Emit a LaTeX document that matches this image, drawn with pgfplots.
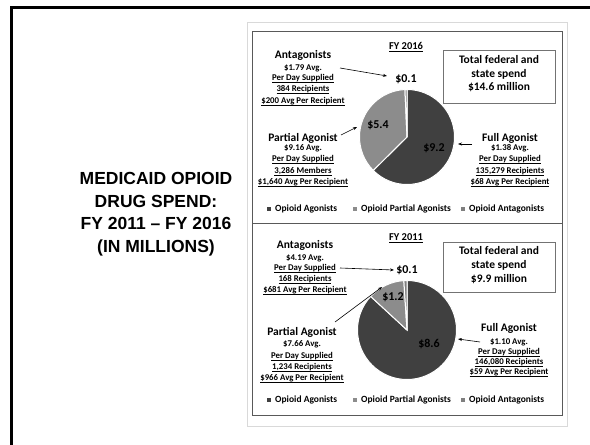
\documentclass[border=0pt]{standalone}
\usepackage{fontspec}
\setmainfont{Carlito}
\newfontfamily\arial{Liberation Sans}
\usepackage{pgfplots}
\usepackage{pgfplotstable}
\pgfplotsset{compat=1.18}
\usetikzlibrary{arrows.meta}

% slice colours: 0 agonists, 1 partial agonists, 2 antagonists
\definecolor{pie0}{HTML}{404040}
\definecolor{pie1}{HTML}{8C8C8C}
\definecolor{pie2}{HTML}{7F7F7F}
\definecolor{panel}{HTML}{595959}
\definecolor{frame}{HTML}{D9D9D9}

% spend in millions, FY 2016 and FY 2011
\pgfplotstableread{
slice value
0 9.2
1 5.4
2 0.1
}\fysixteen
\pgfplotstableread{
slice value
0 8.6
1 1.2
2 0.1
}\fyeleven
\pgfplotstablecreatecol[create col/expr accum={\pgfmathaccuma + \thisrow{value}}{0}]{cum}\fysixteen
\pgfplotstablecreatecol[create col/expr accum={\pgfmathaccuma + \thisrow{value}}{0}]{cum}\fyeleven
\pgfplotstablegetelem{2}{cum}\of\fysixteen \edef\totA{\pgfplotsretval}
\pgfplotstablegetelem{2}{cum}\of\fyeleven \edef\totB{\pgfplotsretval}

% each row is drawn as one slice, clockwise from 12 o'clock
\pgfplotsset{
  pie/.style 2 args={
    scatter, only marks, mark=*, mark size=0pt, draw=white, fill=white,
    point meta=\thisrow{value},
    visualization depends on={\thisrow{value} \as \val},
    visualization depends on={\thisrow{cum} \as \cum},
    visualization depends on={\thisrow{slice} \as \slc},
    scatter/@pre marker code/.code={%
      \pgfmathsetmacro\sa{90-360*(\cum-\val)/#2}%
      \pgfmathsetmacro\se{90-360*\cum/#2}%
      \pgfmathtruncatemacro\k{\slc}%
      \fill[fill=pie\k, draw=white, line width=1pt]
        (canvas cs:x=0pt,y=0pt) -- (canvas polar cs:angle=\sa,radius=#1)
        arc[start angle=\sa, end angle=\se, radius=#1] -- cycle;
    },
    scatter/@post marker code/.code={},
  },
  pieaxis/.style={anchor=center, scale only axis, hide axis, clip=false,
    xmin=-1, xmax=1, ymin=-1, ymax=1},
}

\newcommand\fhd{\fontsize{11.5}{13}\selectfont\bfseries}
\newcommand\fsm{\fontsize{8.8}{10}\selectfont\bfseries}
\newcommand\flg{\fontsize{9.5}{11}\selectfont\bfseries}
\newcommand\ul[1]{\underline{\smash{#1}}}

\begin{document}
\begin{tikzpicture}[x=1pt, y=1pt,
    hd/.style={font=\fhd, anchor=base, inner sep=0pt},
    sm/.style={font=\fsm, anchor=base, inner sep=0pt},
    val/.style={font=\fontsize{12}{14}\selectfont\bfseries, anchor=base, inner sep=0pt},
    arr/.style={-{Stealth[length=4pt,width=3pt]}, line width=0.6pt},
    lgt/.style={font=\flg, anchor=base west, inner sep=0pt}]
\useasboundingbox (0,0) rectangle (590,445);

% slide frame
\draw[line width=3pt] (11,-2) -- (11,437) -- (595,437);
\node[font=\arial\bfseries\fontsize{17.5}{22.5}\selectfont, align=center]
  at (156,231) {MEDICAID OPIOID\\DRUG SPEND:\\FY 2011 – FY 2016\\(IN MILLIONS)};

% chart frames
\draw[frame, line width=0.8pt] (247,19) rectangle (567,423);
\draw[panel, line width=0.8pt] (252,222) rectangle (562,414);
\draw[panel, line width=0.8pt] (252,30) rectangle (562,222);

% ---------- FY 2016 ----------
\begin{axis}[pieaxis, at={(407pt,308pt)}, width=95pt, height=95pt]
\addplot[pie={47.5pt}{\totA}] table[x expr=0, y expr=0] {\fysixteen};
\end{axis}

\node[font=\fontsize{10.5}{12}\selectfont\bfseries, anchor=base] at (406,395.5) {\ul{FY 2016}};

\node[hd] at (303,386) {Antagonists};
\node[sm] at (303,374) {\$1.79 Avg.};
\node[sm] at (303,364) {\ul{Per Day Supplied}};
\node[sm] at (303,353) {\ul{384 Recipients}};
\node[sm] at (303,341) {\ul{\$200 Avg Per Recipient}};
\node[val] at (406,362) {\$0.1};
\draw[arr] (340,377) -- (387,369);

\draw[black!55, line width=0.8pt] (443,342) rectangle (555,395);
\node[hd] at (499,381) {Total federal and};
\node[hd] at (499,367) {state spend};
\node[hd] at (499,354) {\$14.6 million};

\node[val] at (378,316) {\$5.4};
\node[val] at (434,293) {\$9.2};

\node[hd] at (303,303) {Partial Agonist};
\node[sm] at (303,294) {\$9.16 Avg.};
\node[sm] at (303,283) {\ul{Per Day Supplied}};
\node[sm] at (303,271) {\ul{3,286 Members}};
\node[sm] at (303,260) {\ul{\$1,640 Avg Per Recipient}};
\draw[arr] (341,310) -- (357,318);

\node[hd] at (510,303) {Full Agonist};
\node[sm] at (510,294) {\$1.38 Avg.};
\node[sm] at (510,283) {\ul{Per Day Supplied}};
\node[sm] at (510,271) {\ul{135,279 Recipients}};
\node[sm] at (510,260) {\ul{\$68 Avg Per Recipient}};
\draw[arr] (472,301) -- (458,301);

\fill[pie0] (266.5,233.5) rectangle +(4.5,4.5);
\node[lgt] at (275,233) {Opioid Agonists};
\fill[pie1] (352.5,233.5) rectangle +(4.5,4.5);
\node[lgt] at (361,233) {Opioid Partial Agonists};
\fill[pie2] (460.5,233.5) rectangle +(4.5,4.5);
\node[lgt] at (469,233) {Opioid Antagonists};

% ---------- FY 2011 ----------
\begin{axis}[pieaxis, at={(407pt,115pt)}, width=99pt, height=99pt]
\addplot[pie={49.5pt}{\totB}] table[x expr=0, y expr=0] {\fyeleven};
\end{axis}

\node[font=\fontsize{10.5}{12}\selectfont\bfseries, anchor=base] at (406,204.5) {\ul{FY 2011}};

\node[hd] at (305,196) {Antagonists};
\node[sm] at (305,184) {\$4.19 Avg.};
\node[sm] at (305,174) {\ul{Per Day Supplied}};
\node[sm] at (305,163) {\ul{168 Recipients}};
\node[sm] at (305,152) {\ul{\$681 Avg Per Recipient}};
\node[val] at (407,171) {\$0.1};
\draw[arr] (340,177) -- (394,175);

\draw[black!55, line width=0.8pt] (443,153) rectangle (555,203);
\node[hd] at (499,190) {Total federal and};
\node[hd] at (499,176) {state spend};
\node[hd] at (499,162) {\$9.9 million};

\node[val] at (393,144) {\$1.2};
\node[val] at (429,97) {\$8.6};

\node[hd] at (302,109) {Partial Agonist};
\node[sm] at (302,98) {\$7.66 Avg.};
\node[sm] at (302,86) {\ul{Per Day Supplied}};
\node[sm] at (302,75) {\ul{1,234 Recipients}};
\node[sm] at (302,64) {\ul{\$966 Avg Per Recipient}};
\draw[arr] (335,123) -- (382,158);

\node[hd] at (509,113) {Full Agonist};
\node[sm] at (509,100) {\$1.10 Avg.};
\node[sm] at (509,90) {\ul{Per Day Supplied}};
\node[sm] at (509,80) {\ul{146,080 Recipients}};
\node[sm] at (509,70) {\ul{\$59 Avg Per Recipient}};
\draw[arr] (480,103) -- (458,106);

\fill[pie0] (266.5,42.5) rectangle +(4.5,4.5);
\node[lgt] at (275,42) {Opioid Agonists};
\fill[pie1] (352.5,42.5) rectangle +(4.5,4.5);
\node[lgt] at (361,42) {Opioid Partial Agonists};
\fill[pie2] (460.5,42.5) rectangle +(4.5,4.5);
\node[lgt] at (469,42) {Opioid Antagonists};
\end{tikzpicture}
\end{document}
